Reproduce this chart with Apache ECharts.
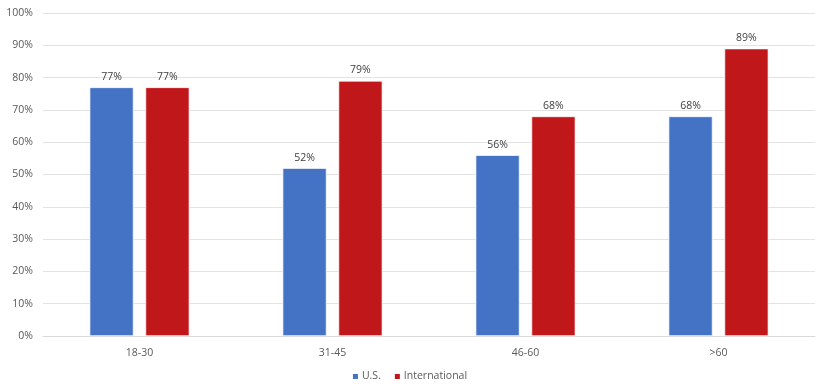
<!DOCTYPE html>
<html><head><meta charset="utf-8">
<script src="https://cdn.jsdelivr.net/npm/echarts@6/dist/echarts.min.js"></script>
<style>html,body{margin:0;padding:0;background:#fff}#c{width:818px;height:384px}</style>
</head><body><div id="c"></div>
<script>
const categories = ['18-30', '31-45', '46-60', '>60'];
const usValues = [77, 52, 56, 68];
const intlValues = [77, 79, 68, 89];
const seriesNames = ['U.S.', 'International'];

const chart = echarts.init(document.getElementById('c'));
const font = 'Open Sans';
const lbl = {show: true, position: 'top', formatter: '{c}%', color: '#404040', fontSize: 10.5, fontFamily: font, distance: 5};
chart.setOption({
  animation: false,
  grid: {left: 43, right: 3, top: 13, bottom: 48},
  legend: {
    bottom: -3, left: 'center', itemWidth: 7, itemHeight: 7, itemGap: 12,
    icon: 'rect',
    textStyle: {color: '#595959', fontSize: 10.5, fontFamily: font, padding: [0,0,0,-2]},
    data: seriesNames
  },
  xAxis: {
    type: 'category', data: categories,
    axisLine: {lineStyle: {color: '#d9d9d9'}},
    axisTick: {show: false},
    axisLabel: {color: '#595959', fontSize: 10.5, fontFamily: font, margin: 12}
  },
  yAxis: {
    type: 'value', min: 0, max: 100, interval: 10,
    axisLabel: {formatter: '{value}%', color: '#595959', fontSize: 10.5, fontFamily: font, margin: 10},
    splitLine: {lineStyle: {color: '#e3e3e3'}},
    axisLine: {show: false}, axisTick: {show: false}
  },
  series: [
    {name: seriesNames[0], type: 'bar', data: usValues, barWidth: 44, barGap: '27%',
     itemStyle: {color: '#4472C4', borderColor: '#ffffff', borderWidth: 0.7}, label: lbl},
    {name: seriesNames[1], type: 'bar', data: intlValues, barWidth: 44,
     itemStyle: {color: '#C0171B', borderColor: '#ffffff', borderWidth: 0.7}, label: lbl}
  ]
});
</script></body></html>
